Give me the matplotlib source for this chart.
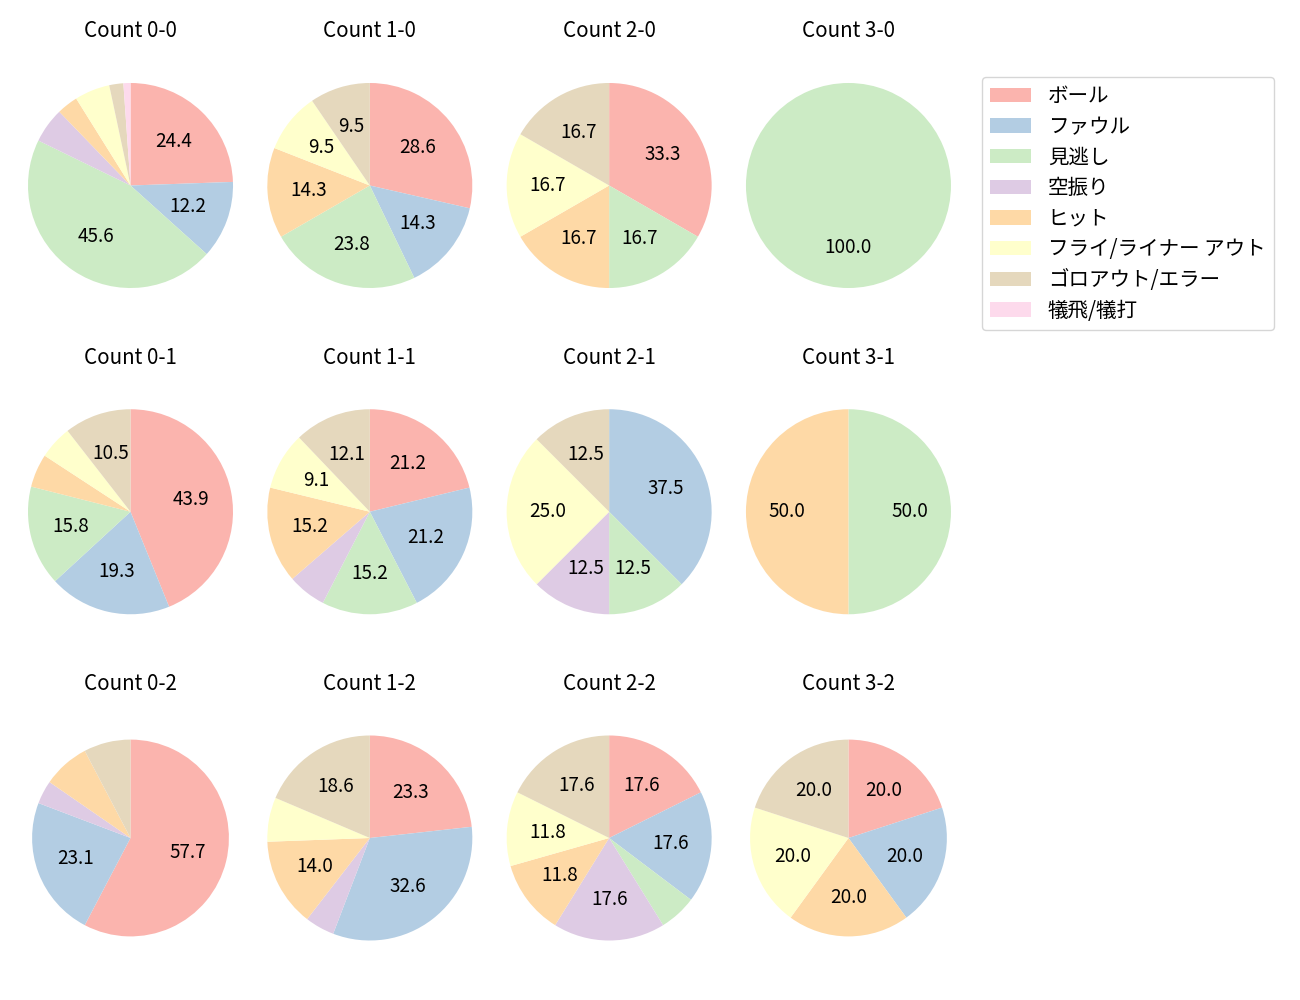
import matplotlib
matplotlib.use("Agg")
import matplotlib.pyplot as plt
from matplotlib.patches import Patch

plt.rcParams['font.family'] = ['Noto Sans CJK JP', 'DejaVu Sans']

categories = ['ボール', 'ファウル', '見逃し', '空振り', 'ヒット',
              'フライ/ライナー アウト', 'ゴロアウト/エラー', '犠飛/犠打']
colors = ['#fbb4ae', '#b3cde3', '#ccebc5', '#decbe4', '#fed9a6',
          '#ffffcc', '#e5d8bd', '#fddaec']

balls = [0, 1, 2, 3]
strikes = [0, 1, 2]

# counts per category for each ball-strike count
c_0_0 = [22, 11, 41, 5, 3, 5, 2, 1]
c_1_0 = [6, 3, 5, 0, 3, 2, 2, 0]
c_2_0 = [2, 0, 1, 0, 1, 1, 1, 0]
c_3_0 = [0, 0, 1, 0, 0, 0, 0, 0]
c_0_1 = [25, 11, 9, 0, 3, 3, 6, 0]
c_1_1 = [7, 7, 5, 2, 5, 3, 4, 0]
c_2_1 = [0, 3, 1, 1, 0, 2, 1, 0]
c_3_1 = [0, 0, 1, 0, 1, 0, 0, 0]
c_0_2 = [15, 6, 0, 1, 2, 0, 2, 0]
c_1_2 = [10, 14, 0, 2, 6, 3, 8, 0]
c_2_2 = [3, 3, 1, 3, 2, 2, 3, 0]
c_3_2 = [1, 1, 0, 0, 1, 1, 1, 0]

data = {
    (0, 0): c_0_0, (1, 0): c_1_0, (2, 0): c_2_0, (3, 0): c_3_0,
    (0, 1): c_0_1, (1, 1): c_1_1, (2, 1): c_2_1, (3, 1): c_3_1,
    (0, 2): c_0_2, (1, 2): c_1_2, (2, 2): c_2_2, (3, 2): c_3_2,
}
# display scale of a few panels (slightly smaller pies in the reference)
scale = {(0, 2): 0.96, (3, 2): 0.96}

fig, axes = plt.subplots(3, 4, figsize=(13, 10), dpi=100)
fig.subplots_adjust(left=0.01365, right=0.7394, bottom=0.0221, top=0.9544,
                    wspace=0.0612, hspace=0.166)


def fmt(p):
    return f'{p:.1f}' if p >= 8 else ''


for s in strikes:
    for b in balls:
        ax = axes[s, b]
        vals = data[(b, s)]
        ax.pie(vals, colors=colors, startangle=90, counterclock=False,
               autopct=fmt, textprops={'fontsize': 13.6})
        ax.set_aspect('auto')
        pos = ax.get_position()
        w_px = pos.width * 1300
        h_px = pos.height * 1000
        L = 1.1 / scale.get((b, s), 1.0)
        ax.set_xlim(-L, L)
        ax.set_ylim(-L * h_px / w_px, L * h_px / w_px)
        ax.set_title(f'Count {b}-{s}', fontsize=14.8)

handles = [Patch(facecolor=c, label=l) for c, l in zip(colors, categories)]
fig.legend(handles=handles, loc='upper left', borderaxespad=0,
           bbox_to_anchor=(982 / 1300, 1 - 77 / 1000), fontsize=14.8,
           labelspacing=0.42, handlelength=2.0)

fig.savefig('out.png', dpi=100)
